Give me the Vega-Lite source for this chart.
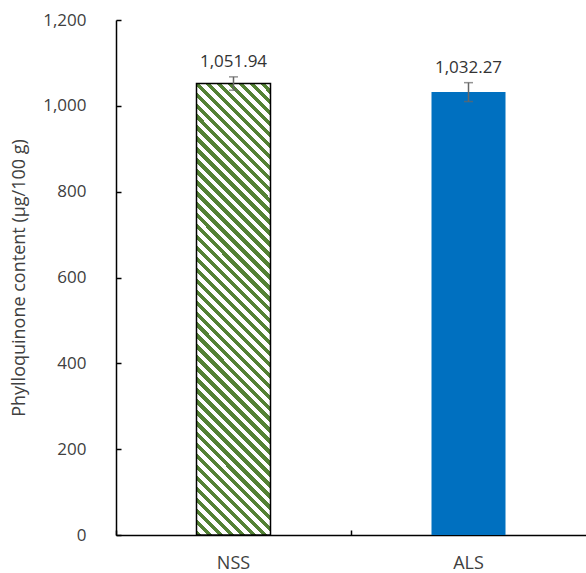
{
  "$schema": "https://vega.github.io/schema/vega-lite/v6.json",
  "width": 470,
  "height": 515,
  "autosize": {"type": "none"},
  "padding": {"left": 116, "top": 20, "right": 0, "bottom": 38},
  "background": "white",
  "config": {"view": {"stroke": null}, "font": "Open Sans"},
  "data": {
    "values": [
      {"group": "NSS", "value": 1051.94, "lo": 1036.4, "hi": 1067.5},
      {"group": "ALS", "value": 1032.27, "lo": 1010.0, "hi": 1054.0}
    ]
  },
  "encoding": {
    "x": {
      "field": "group",
      "type": "nominal",
      "sort": ["NSS", "ALS"],
      "scale": {"paddingInner": 0, "paddingOuter": 0},
      "axis": {
        "title": null,
        "labelAngle": 0,
        "labelFontSize": 18,
        "labelColor": "#404040",
        "labelPadding": 24,
        "labelBaseline": "top",
        "tickSize": -5,
        "bandPosition": 0,
        "tickColor": "black",
        "tickWidth": 1.5,
        "domainColor": "black",
        "domainWidth": 1.5,
        "grid": false
      }
    }
  },
  "layer": [
    {
      "transform": [{"filter": "datum.group === 'NSS'"}],
      "mark": {
        "type": "bar",
        "size": 74,
        "stroke": "black",
        "strokeWidth": 1.5,
        "fill": {
          "gradient": "linear",
          "x1": 0, "y1": 1, "x2": 0.186, "y2": -0.1335,
          "stops": [
            {"offset": 0, "color": "#ffffff"}, {"offset": 0, "color": "#548235"}, {"offset": 0.0104, "color": "#548235"}, {"offset": 0.0104, "color": "#ffffff"},
            {"offset": 0.0208, "color": "#ffffff"}, {"offset": 0.0208, "color": "#548235"}, {"offset": 0.0313, "color": "#548235"}, {"offset": 0.0313, "color": "#ffffff"},
            {"offset": 0.0417, "color": "#ffffff"}, {"offset": 0.0417, "color": "#548235"}, {"offset": 0.0521, "color": "#548235"}, {"offset": 0.0521, "color": "#ffffff"},
            {"offset": 0.0625, "color": "#ffffff"}, {"offset": 0.0625, "color": "#548235"}, {"offset": 0.0729, "color": "#548235"}, {"offset": 0.0729, "color": "#ffffff"},
            {"offset": 0.0833, "color": "#ffffff"}, {"offset": 0.0833, "color": "#548235"}, {"offset": 0.0938, "color": "#548235"}, {"offset": 0.0938, "color": "#ffffff"},
            {"offset": 0.1042, "color": "#ffffff"}, {"offset": 0.1042, "color": "#548235"}, {"offset": 0.1146, "color": "#548235"}, {"offset": 0.1146, "color": "#ffffff"},
            {"offset": 0.125, "color": "#ffffff"}, {"offset": 0.125, "color": "#548235"}, {"offset": 0.1354, "color": "#548235"}, {"offset": 0.1354, "color": "#ffffff"},
            {"offset": 0.1458, "color": "#ffffff"}, {"offset": 0.1458, "color": "#548235"}, {"offset": 0.1563, "color": "#548235"}, {"offset": 0.1563, "color": "#ffffff"},
            {"offset": 0.1667, "color": "#ffffff"}, {"offset": 0.1667, "color": "#548235"}, {"offset": 0.1771, "color": "#548235"}, {"offset": 0.1771, "color": "#ffffff"},
            {"offset": 0.1875, "color": "#ffffff"}, {"offset": 0.1875, "color": "#548235"}, {"offset": 0.1979, "color": "#548235"}, {"offset": 0.1979, "color": "#ffffff"},
            {"offset": 0.2083, "color": "#ffffff"}, {"offset": 0.2083, "color": "#548235"}, {"offset": 0.2188, "color": "#548235"}, {"offset": 0.2188, "color": "#ffffff"},
            {"offset": 0.2292, "color": "#ffffff"}, {"offset": 0.2292, "color": "#548235"}, {"offset": 0.2396, "color": "#548235"}, {"offset": 0.2396, "color": "#ffffff"},
            {"offset": 0.25, "color": "#ffffff"}, {"offset": 0.25, "color": "#548235"}, {"offset": 0.2604, "color": "#548235"}, {"offset": 0.2604, "color": "#ffffff"},
            {"offset": 0.2708, "color": "#ffffff"}, {"offset": 0.2708, "color": "#548235"}, {"offset": 0.2813, "color": "#548235"}, {"offset": 0.2813, "color": "#ffffff"},
            {"offset": 0.2917, "color": "#ffffff"}, {"offset": 0.2917, "color": "#548235"}, {"offset": 0.3021, "color": "#548235"}, {"offset": 0.3021, "color": "#ffffff"},
            {"offset": 0.3125, "color": "#ffffff"}, {"offset": 0.3125, "color": "#548235"}, {"offset": 0.3229, "color": "#548235"}, {"offset": 0.3229, "color": "#ffffff"},
            {"offset": 0.3333, "color": "#ffffff"}, {"offset": 0.3333, "color": "#548235"}, {"offset": 0.3438, "color": "#548235"}, {"offset": 0.3438, "color": "#ffffff"},
            {"offset": 0.3542, "color": "#ffffff"}, {"offset": 0.3542, "color": "#548235"}, {"offset": 0.3646, "color": "#548235"}, {"offset": 0.3646, "color": "#ffffff"},
            {"offset": 0.375, "color": "#ffffff"}, {"offset": 0.375, "color": "#548235"}, {"offset": 0.3854, "color": "#548235"}, {"offset": 0.3854, "color": "#ffffff"},
            {"offset": 0.3958, "color": "#ffffff"}, {"offset": 0.3958, "color": "#548235"}, {"offset": 0.4063, "color": "#548235"}, {"offset": 0.4063, "color": "#ffffff"},
            {"offset": 0.4167, "color": "#ffffff"}, {"offset": 0.4167, "color": "#548235"}, {"offset": 0.4271, "color": "#548235"}, {"offset": 0.4271, "color": "#ffffff"},
            {"offset": 0.4375, "color": "#ffffff"}, {"offset": 0.4375, "color": "#548235"}, {"offset": 0.4479, "color": "#548235"}, {"offset": 0.4479, "color": "#ffffff"},
            {"offset": 0.4583, "color": "#ffffff"}, {"offset": 0.4583, "color": "#548235"}, {"offset": 0.4688, "color": "#548235"}, {"offset": 0.4688, "color": "#ffffff"},
            {"offset": 0.4792, "color": "#ffffff"}, {"offset": 0.4792, "color": "#548235"}, {"offset": 0.4896, "color": "#548235"}, {"offset": 0.4896, "color": "#ffffff"},
            {"offset": 0.5, "color": "#ffffff"}, {"offset": 0.5, "color": "#548235"}, {"offset": 0.5104, "color": "#548235"}, {"offset": 0.5104, "color": "#ffffff"},
            {"offset": 0.5208, "color": "#ffffff"}, {"offset": 0.5208, "color": "#548235"}, {"offset": 0.5313, "color": "#548235"}, {"offset": 0.5313, "color": "#ffffff"},
            {"offset": 0.5417, "color": "#ffffff"}, {"offset": 0.5417, "color": "#548235"}, {"offset": 0.5521, "color": "#548235"}, {"offset": 0.5521, "color": "#ffffff"},
            {"offset": 0.5625, "color": "#ffffff"}, {"offset": 0.5625, "color": "#548235"}, {"offset": 0.5729, "color": "#548235"}, {"offset": 0.5729, "color": "#ffffff"},
            {"offset": 0.5833, "color": "#ffffff"}, {"offset": 0.5833, "color": "#548235"}, {"offset": 0.5938, "color": "#548235"}, {"offset": 0.5938, "color": "#ffffff"},
            {"offset": 0.6042, "color": "#ffffff"}, {"offset": 0.6042, "color": "#548235"}, {"offset": 0.6146, "color": "#548235"}, {"offset": 0.6146, "color": "#ffffff"},
            {"offset": 0.625, "color": "#ffffff"}, {"offset": 0.625, "color": "#548235"}, {"offset": 0.6354, "color": "#548235"}, {"offset": 0.6354, "color": "#ffffff"},
            {"offset": 0.6458, "color": "#ffffff"}, {"offset": 0.6458, "color": "#548235"}, {"offset": 0.6563, "color": "#548235"}, {"offset": 0.6563, "color": "#ffffff"},
            {"offset": 0.6667, "color": "#ffffff"}, {"offset": 0.6667, "color": "#548235"}, {"offset": 0.6771, "color": "#548235"}, {"offset": 0.6771, "color": "#ffffff"},
            {"offset": 0.6875, "color": "#ffffff"}, {"offset": 0.6875, "color": "#548235"}, {"offset": 0.6979, "color": "#548235"}, {"offset": 0.6979, "color": "#ffffff"},
            {"offset": 0.7083, "color": "#ffffff"}, {"offset": 0.7083, "color": "#548235"}, {"offset": 0.7188, "color": "#548235"}, {"offset": 0.7188, "color": "#ffffff"},
            {"offset": 0.7292, "color": "#ffffff"}, {"offset": 0.7292, "color": "#548235"}, {"offset": 0.7396, "color": "#548235"}, {"offset": 0.7396, "color": "#ffffff"},
            {"offset": 0.75, "color": "#ffffff"}, {"offset": 0.75, "color": "#548235"}, {"offset": 0.7604, "color": "#548235"}, {"offset": 0.7604, "color": "#ffffff"},
            {"offset": 0.7708, "color": "#ffffff"}, {"offset": 0.7708, "color": "#548235"}, {"offset": 0.7813, "color": "#548235"}, {"offset": 0.7813, "color": "#ffffff"},
            {"offset": 0.7917, "color": "#ffffff"}, {"offset": 0.7917, "color": "#548235"}, {"offset": 0.8021, "color": "#548235"}, {"offset": 0.8021, "color": "#ffffff"},
            {"offset": 0.8125, "color": "#ffffff"}, {"offset": 0.8125, "color": "#548235"}, {"offset": 0.8229, "color": "#548235"}, {"offset": 0.8229, "color": "#ffffff"},
            {"offset": 0.8333, "color": "#ffffff"}, {"offset": 0.8333, "color": "#548235"}, {"offset": 0.8438, "color": "#548235"}, {"offset": 0.8438, "color": "#ffffff"},
            {"offset": 0.8542, "color": "#ffffff"}, {"offset": 0.8542, "color": "#548235"}, {"offset": 0.8646, "color": "#548235"}, {"offset": 0.8646, "color": "#ffffff"},
            {"offset": 0.875, "color": "#ffffff"}, {"offset": 0.875, "color": "#548235"}, {"offset": 0.8854, "color": "#548235"}, {"offset": 0.8854, "color": "#ffffff"},
            {"offset": 0.8958, "color": "#ffffff"}, {"offset": 0.8958, "color": "#548235"}, {"offset": 0.9063, "color": "#548235"}, {"offset": 0.9063, "color": "#ffffff"},
            {"offset": 0.9167, "color": "#ffffff"}, {"offset": 0.9167, "color": "#548235"}, {"offset": 0.9271, "color": "#548235"}, {"offset": 0.9271, "color": "#ffffff"},
            {"offset": 0.9375, "color": "#ffffff"}, {"offset": 0.9375, "color": "#548235"}, {"offset": 0.9479, "color": "#548235"}, {"offset": 0.9479, "color": "#ffffff"},
            {"offset": 0.9583, "color": "#ffffff"}, {"offset": 0.9583, "color": "#548235"}, {"offset": 0.9688, "color": "#548235"}, {"offset": 0.9688, "color": "#ffffff"},
            {"offset": 0.9792, "color": "#ffffff"}, {"offset": 0.9792, "color": "#548235"}, {"offset": 0.9896, "color": "#548235"}, {"offset": 0.9896, "color": "#ffffff"},
            {"offset": 1, "color": "#ffffff"}
          ]
        }
      },
      "encoding": {
        "y": {
          "field": "value",
          "type": "quantitative",
          "scale": {"domain": [0, 1200], "nice": false},
          "axis": {
            "title": "Phylloquinone content (μg/100 g)",
            "titleFontSize": 18,
            "titleFontWeight": "normal",
            "titleColor": "#404040",
            "titleX": -88,
            "values": [0, 200, 400, 600, 800, 1000, 1200],
            "format": ",.0f",
            "labelFontSize": 17,
            "labelColor": "#404040",
            "labelPadding": 35,
            "tickSize": -5,
            "tickColor": "black",
            "tickWidth": 1.5,
            "domainColor": "black",
            "domainWidth": 1.5,
            "grid": false
          }
        }
      }
    },
    {
      "transform": [{"filter": "datum.group === 'ALS'"}],
      "mark": {"type": "bar", "size": 74, "fill": "#0070C0"},
      "encoding": {"y": {"field": "value", "type": "quantitative"}}
    },
    {
      "mark": {"type": "rule", "color": "#666666", "strokeWidth": 1.5},
      "encoding": {
        "y": {"field": "lo", "type": "quantitative"},
        "y2": {"field": "hi"}
      }
    },
    {
      "mark": {"type": "tick", "color": "#666666", "size": 9, "thickness": 1.5},
      "encoding": {"y": {"field": "lo", "type": "quantitative"}}
    },
    {
      "mark": {"type": "tick", "color": "#666666", "size": 9, "thickness": 1.5},
      "encoding": {"y": {"field": "hi", "type": "quantitative"}}
    },
    {
      "mark": {"type": "text", "fontSize": 17, "color": "#333333", "baseline": "bottom", "dy": -6},
      "encoding": {
        "y": {"field": "hi", "type": "quantitative"},
        "text": {"field": "value", "type": "quantitative", "format": ",.2f"}
      }
    }
  ]
}
